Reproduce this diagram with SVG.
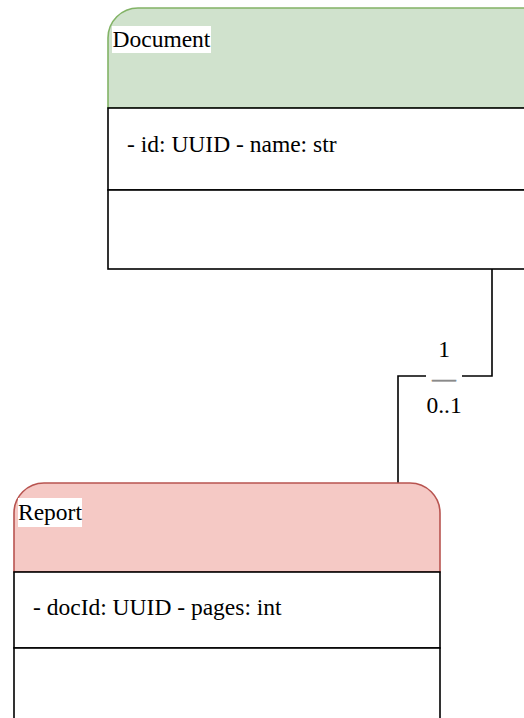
<svg xmlns="http://www.w3.org/2000/svg" width="524" height="718" viewBox="0 0 524 718">
  <style>
    .label { font-family: "Liberation Serif", "Times New Roman", serif; font-size: 23.5px; fill: #000; }
    .dash { fill: #8a8a8a; stroke: #8a8a8a; stroke-width: 0.7; }
    .box { fill: #fff; stroke: #000; stroke-width: 1.6; }
    .line { fill: none; stroke: #000; stroke-width: 1.6; }
    .bg { fill: #fff; }
  </style>
  <rect width="524" height="718" fill="#fff"/>

  <!-- connectors -->
  <g id="connectors">
    <path class="line" d="M492,269 V376 H398 V483"/>
    <rect class="bg" x="426" y="335" width="36" height="86"/>
    <text class="label" x="444" y="357" text-anchor="middle">1</text>
    <text class="label dash" x="444" y="386" text-anchor="middle">—</text>
    <text class="label" x="444" y="413" text-anchor="middle">0..1</text>
  </g>

  <!-- Document class -->
  <g id="document">
    <path d="M108,108 V38 A30,30 0 0 1 138,8 H530 V108 Z" fill="#d0e2cd" stroke="#82b366" stroke-width="1.6"/>
    <rect class="box" x="108" y="108" width="430" height="82"/>
    <rect class="box" x="108" y="190" width="430" height="79"/>
    <rect class="bg" x="112" y="26" width="99" height="27"/>
    <text class="label" x="112.5" y="47">Document</text>
    <text class="label" x="127" y="152">- id: UUID - name: str</text>
  </g>

  <!-- Report class -->
  <g id="report">
    <path d="M14,572 V513 A30,30 0 0 1 44,483 H410 A30,30 0 0 1 440,513 V572 Z" fill="#f5c9c5" stroke="#b85450" stroke-width="1.6"/>
    <rect class="box" x="14" y="572" width="426" height="76"/>
    <rect class="box" x="14" y="648" width="426" height="80"/>
    <rect class="bg" x="18" y="498" width="64" height="29"/>
    <text class="label" x="18" y="520">Report</text>
    <text class="label" x="33" y="615">- docId: UUID - pages: int</text>
  </g>
</svg>
